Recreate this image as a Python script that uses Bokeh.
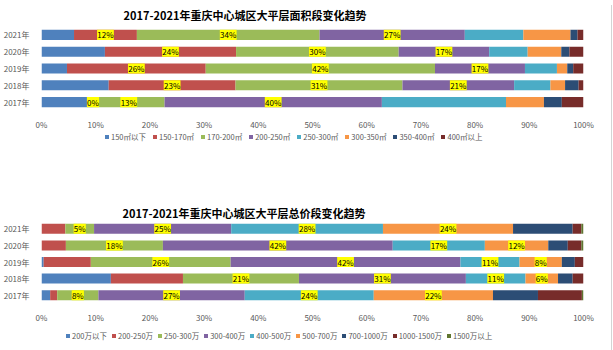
from bokeh.plotting import figure
from bokeh.models import (ColumnDataSource, Legend, LegendItem, FactorRange, Range1d,
                          FixedTicker, Div)
from bokeh.layouts import column, row
from bokeh.embed import file_html
from bokeh.resources import INLINE
from bokeh.core.properties import value

FONT = "Noto Sans CJK SC"

years = ["2017年", "2018年", "2019年", "2020年", "2021年"]
x_ticks = [0, 10, 20, 30, 40, 50, 60, 70, 80, 90, 100]

# ---- chart 1: area segments (share %, per year 2017..2021)
area_names = ["150㎡以下", "150-170㎡", "170-200㎡", "200-250㎡",
              "250-300㎡", "300-350㎡", "350-400㎡", "400㎡以上"]
area_150_below = [9.5, 12.4, 4.7, 11.7, 6.0]
area_150_170 = [0.0, 23.4, 25.6, 24.2, 11.6]
area_170_200 = [13.2, 30.8, 42.3, 30.0, 33.7]
area_200_250 = [40.1, 20.6, 16.6, 16.7, 26.8]
area_250_300 = [22.9, 6.7, 5.9, 7.1, 10.8]
area_300_350 = [7.0, 2.7, 1.9, 6.2, 8.7]
area_350_400 = [3.3, 2.5, 1.1, 1.5, 1.3]
area_400_above = [4.0, 0.9, 1.9, 2.6, 1.1]
area_labeled = [1, 2, 3]

# ---- chart 2: total price segments (share %, per year 2017..2021)
price_names = ["200万以下", "200-250万", "250-300万", "300-400万", "400-500万",
               "500-700万", "700-1000万", "1000-1500万", "1500万以上"]
price_200_below = [1.6, 12.8, 0.4, 0.0, 0.0]
price_200_250 = [1.3, 13.3, 8.7, 4.5, 4.4]
price_250_300 = [7.6, 21.4, 25.8, 17.9, 5.3]
price_300_400 = [27.0, 30.8, 42.4, 42.4, 25.3]
price_400_500 = [23.8, 11.0, 10.9, 17.0, 28.0]
price_500_700 = [22.0, 6.0, 7.8, 11.7, 24.0]
price_700_1000 = [8.3, 2.7, 2.4, 3.6, 11.0]
price_1000_1500 = [8.1, 2.0, 1.6, 2.5, 1.6]
price_1500_above = [0.3, 0.0, 0.0, 0.4, 0.4]
price_labeled = [2, 3, 4, 5]

PALETTE = ["#4F81BD", "#C0504D", "#9BBB59", "#8064A2", "#4BACC6",
           "#F79646", "#2C4D75", "#772C2A", "#5F7530"]

W = 606


def make_chart(title, series, labeled, height, b_left, b_right, b_top, b_bottom,
               title_offset, title_standoff):
    p = figure(width=W, height=height, y_range=FactorRange(factors=years),
               x_range=Range1d(0, 100), output_backend="svg", toolbar_location=None,
               min_border_left=b_left, min_border_right=b_right,
               min_border_top=b_top, min_border_bottom=b_bottom)
    p.title.text = title
    p.title.text_font = FONT
    p.title.text_font_size = "11px"
    p.title.text_font_style = "bold"
    p.title.text_color = "#000000"
    p.title.align = "left"
    p.title.offset = title_offset
    p.title.standoff = title_standoff

    data = {"year": years}
    keys = []
    for i, s in enumerate(series):
        k = f"s{i}"
        data[k] = s
        keys.append(k)
    src = ColumnDataSource(data)
    p.hbar_stack(keys, y="year", height=0.6, color=PALETTE[:len(keys)],
                 line_color=None, source=src)

    # data labels (yellow boxes)
    lx, ly, lt, lw = [], [], [], []
    for j, yr in enumerate(years):
        cum = 0.0
        for i, s in enumerate(series):
            v = s[j]
            if i in labeled:
                lx.append(cum + v / 2)
                ly.append(yr)
                t = f"{v:.0f}%"
                lt.append(t)
                lw.append(4.6 * len(t) + 3)
            cum += v
    lsrc = ColumnDataSource(dict(x=lx, y=ly, t=lt, w=lw))
    p.rect(x="x", y="y", width="w", height=0.6, width_units="screen",
           fill_color="#FFFF00", line_color=None, source=lsrc)
    p.text(x="x", y="y", text="t", text_align="center", text_baseline="middle",
           text_font=value(FONT), text_font_size="8px", text_color="#000000", source=lsrc)

    p.xgrid.visible = False
    p.ygrid.visible = False
    p.outline_line_color = None
    for ax in (p.xaxis[0], p.yaxis[0]):
        ax.axis_line_color = None
        ax.major_tick_line_color = None
        ax.minor_tick_line_color = None
        ax.major_label_text_font = FONT
        ax.major_label_text_font_size = "8px"
        ax.major_label_text_color = "#595959"
    p.xaxis.ticker = FixedTicker(ticks=x_ticks)
    p.xaxis.major_label_overrides = {t: f"{t}%" for t in x_ticks}
    p.xaxis.major_label_standoff = 2
    p.yaxis.major_label_standoff = 6
    return p


def make_legend(names, height, loc, spacing):
    lf = figure(width=W, height=height, x_range=Range1d(0, 1), y_range=Range1d(0, 1),
                output_backend="svg", toolbar_location=None,
                x_axis_location=None, y_axis_location=None,
                min_border_left=0, min_border_right=0, min_border_top=0,
                min_border_bottom=0)
    lf.grid.visible = False
    lf.outline_line_color = None
    items = []
    for n, c in zip(names, PALETTE):
        # zero-size swatch carrier: only its legend entry is seen
        r = lf.quad(left=[0], right=[0], top=[0], bottom=[0],
                    fill_color=c, line_color=None)
        items.append(LegendItem(label=n, renderers=[r]))
    legend = Legend(items=items, orientation="horizontal", location=loc,
                    label_text_font=FONT, label_text_font_size="7.5px",
                    label_text_color="#595959", glyph_width=5, glyph_height=5,
                    label_height=8, label_standoff=2, spacing=spacing,
                    padding=0, margin=0, border_line_color=None,
                    background_fill_alpha=0)
    lf.add_layout(legend, "center")
    return lf


top = make_chart("2017-2021年重庆中心城区大平层面积段变化趋势",
                 [area_150_below, area_150_170, area_170_200, area_200_250,
                  area_250_300, area_300_350, area_350_400, area_400_above],
                 area_labeled, 132, 36, 15, 23, 12, 82, 8)
top_leg = make_legend(area_names, 12, (63, 2), 6)

bottom = make_chart("2017-2021年重庆中心城区大平层总价段变化趋势",
                    [price_200_below, price_200_250, price_250_300, price_300_400,
                     price_400_500, price_500_700, price_700_1000, price_1000_1500,
                     price_1500_above],
                    price_labeled, 181, 33, 23, 76, 12, 81, 0)
bottom_leg = make_legend(price_names, 25, (24, 9), 4)

edge = Div(text='<div style="width:1px;height:350px;background:#d4d4d4;"></div>',
           width=7, height=350)

layout = row(column(top, top_leg, bottom, bottom_leg), edge)

with open("out.html", "w") as f:
    f.write(file_html(layout, INLINE))
